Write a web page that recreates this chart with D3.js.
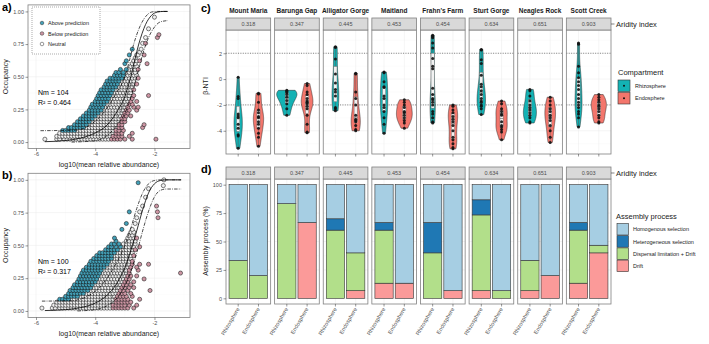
<!DOCTYPE html>
<html>
<head>
<meta charset="utf-8">
<script src="https://cdn.jsdelivr.net/npm/d3@7.9.0/dist/d3.min.js"></script>
<style>
  body { margin: 0; background: #fff; }
  svg { display: block; font-family: "Liberation Sans", Arial, sans-serif; }
</style>
</head>
<body>
<div id="chart"></div>
<script>
// ---------- data: neutral model panels (rows of [occupancy, [log10 abundance ...]]) ----------
const neutralA = [
  [0.022, [-5.7,-5.3,-5.2,-5.05,-4.95,-4.85,-4.75,-4.65,-4.55,-4.45,-4.35,-4.25,-4.15,-4.05,-3.95,-3.85,-3.75,-3.65,-3.55]],
  [0.044, [-5.3,-5.2,-5.1,-5.0,-4.9,-4.8,-4.7,-4.6,-4.5,-4.4,-4.3,-4.2,-4.1,-4.0,-3.9,-3.8,-3.7,-3.6,-3.5]],
  [0.067, [-5.2,-5.1,-5.0,-4.9,-4.8,-4.7,-4.6,-4.5,-4.4,-4.3,-4.2,-4.1,-4.0,-3.9,-3.8,-3.7,-3.6,-3.5,-3.4]],
  [0.089, [-4.6,-4.5,-4.4,-4.3,-4.2,-4.1,-4.0,-3.9,-3.8,-3.7,-3.6,-3.5,-3.4]],
  [0.111, [-4.3,-4.2,-4.1,-4.0,-3.9,-3.8,-3.7,-3.6,-3.5,-3.4,-3.3]],
  [0.133, [-4.2,-4.1,-4.0,-3.9,-3.8,-3.7,-3.6,-3.5,-3.4,-3.3]],
  [0.156, [-4.1,-4.0,-3.9,-3.8,-3.7,-3.6,-3.5,-3.4,-3.3,-3.2]],
  [0.178, [-4.0,-3.9,-3.8,-3.7,-3.6,-3.5,-3.4,-3.3,-3.2]],
  [0.2, [-3.9,-3.8,-3.7,-3.6,-3.5,-3.4,-3.3,-3.2,-3.15]],
  [0.222, [-3.8,-3.7,-3.6,-3.5,-3.4,-3.3,-3.2,-3.1]],
  [0.244, [-3.7,-3.6,-3.5,-3.4,-3.3,-3.2,-3.1,-3.05]],
  [0.267, [-3.65,-3.55,-3.45,-3.35,-3.25,-3.15,-3.05,-3.0]],
  [0.289, [-3.6,-3.5,-3.4,-3.3,-3.2,-3.1,-3.0,-2.95]],
  [0.311, [-3.5,-3.4,-3.3,-3.2,-3.1,-3.0,-2.9]],
  [0.333, [-3.45,-3.35,-3.25,-3.15,-3.05,-2.95,-2.85]],
  [0.356, [-3.4,-3.3,-3.2,-3.1,-3.0,-2.9,-2.85]],
  [0.378, [-3.35,-3.25,-3.15,-3.05,-2.95,-2.85,-2.8]],
  [0.4, [-3.3,-3.2,-3.1,-3.0,-2.9,-2.8]],
  [0.422, [-3.2,-3.1,-3.0,-2.9,-2.8,-2.75]],
  [0.444, [-3.15,-3.05,-2.95,-2.85,-2.75,-2.7]],
  [0.467, [-3.1,-3.0,-2.9,-2.8,-2.7]],
  [0.489, [-3.05,-2.95,-2.85,-2.75,-2.65]],
  [0.511, [-3.0,-2.9,-2.8,-2.7,-2.6]],
  [0.533, [-2.95,-2.85,-2.75,-2.65]],
  [0.556, [-2.85,-2.75,-2.65]],
  [0.578, [-2.8,-2.7,-2.6]],
  [0.6, [-2.75,-2.65]],
  [0.622, [-2.7,-2.6]],
  [0.644, [-2.65]],
  [0.667, [-2.6,-2.55]],
  [0.689, [-2.5]],
  [0.711, [-2.45]],
  [0.756, [-2.4]],
  [0.8, [-2.3]],
  [0.867, [-2.2]],
  [0.956, [-2.0]]
];
const aboveA = [
  [0.089, [-5.1,-5.0,-4.9,-4.8,-4.7]],
  [0.111, [-4.9,-4.8,-4.7,-4.6,-4.5,-4.4]],
  [0.133, [-4.7,-4.6,-4.5,-4.4,-4.3]],
  [0.156, [-4.6,-4.5,-4.4,-4.3,-4.2]],
  [0.178, [-4.5,-4.4,-4.3,-4.2,-4.1]],
  [0.2, [-4.4,-4.3,-4.2,-4.1,-4.0]],
  [0.222, [-4.3,-4.2,-4.1,-4.0,-3.9]],
  [0.244, [-4.2,-4.1,-4.0,-3.9,-3.8]],
  [0.267, [-4.15,-4.05,-3.95,-3.85,-3.75]],
  [0.289, [-4.1,-4.0,-3.9,-3.8,-3.7]],
  [0.311, [-4.0,-3.9,-3.8,-3.7,-3.6]],
  [0.333, [-3.95,-3.85,-3.75,-3.65,-3.55]],
  [0.356, [-3.9,-3.8,-3.7,-3.6,-3.5]],
  [0.378, [-3.85,-3.75,-3.65,-3.55,-3.45]],
  [0.4, [-3.8,-3.7,-3.6,-3.5,-3.4]],
  [0.422, [-3.7,-3.6,-3.5,-3.4,-3.3]],
  [0.444, [-3.65,-3.55,-3.45,-3.35,-3.25]],
  [0.467, [-3.6,-3.5,-3.4,-3.3,-3.2]],
  [0.489, [-3.5,-3.4,-3.3,-3.2,-3.1]],
  [0.511, [-3.35,-3.25,-3.15,-3.05]],
  [0.533, [-3.3,-3.2,-3.05]],
  [0.556, [-3.15,-2.95]],
  [0.6, [-3.0]],
  [0.622, [-2.95]],
  [0.667, [-2.85]],
  [0.711, [-2.75]]
];
const belowA = [
  [0.022, [-3.45,-3.35,-3.25,-3.15,-3.0,-2.75,-1.95]],
  [0.044, [-3.4,-3.3,-3.2,-3.1,-2.85]],
  [0.067, [-3.3,-3.2,-3.1,-2.75]],
  [0.089, [-3.3,-3.2,-3.05]],
  [0.111, [-3.2,-3.1,-2.4]],
  [0.133, [-3.2,-3.1,-2.35]],
  [0.156, [-3.1,-3.0]],
  [0.178, [-3.1,-3.0]],
  [0.2, [-3.05,-2.95,-2.8]],
  [0.222, [-3.0,-2.9]],
  [0.244, [-2.95,-2.85,-2.6]],
  [0.267, [-2.9,-2.7,-2.55]],
  [0.289, [-2.85,-2.75]],
  [0.311, [-2.8,-2.6]],
  [0.333, [-2.75]],
  [0.356, [-2.7,-2.2]],
  [0.4, [-2.7]],
  [0.444, [-2.6]],
  [0.489, [-2.55]],
  [0.556, [-2.55]],
  [0.6, [-2.25]],
  [0.622, [-2.5]],
  [0.667, [-2.35]],
  [0.756, [-2.3]],
  [0.8, [-1.9]],
  [0.822, [-1.85]]
];
const neutralB = [
  [0.022, [-5.8,-5.45,-5.35,-5.2,-5.1,-5.0,-4.9,-4.8,-4.7,-4.6,-4.5,-4.4,-4.3,-4.2,-4.1,-4.0,-3.9,-3.8,-3.7,-3.6,-3.5]],
  [0.044, [-5.4,-5.3,-5.2,-5.1,-5.0,-4.9,-4.8,-4.7,-4.6,-4.5,-4.4,-4.3,-4.2,-4.1,-4.0,-3.9,-3.8,-3.7,-3.6,-3.5]],
  [0.067, [-5.3,-5.2,-5.1,-5.0,-4.9,-4.8,-4.7,-4.6,-4.5,-4.4,-4.3,-4.2,-4.1,-4.0,-3.9,-3.8,-3.7,-3.6,-3.5,-3.4]],
  [0.089, [-4.8,-4.7,-4.6,-4.5,-4.4,-4.3,-4.2,-4.1,-4.0,-3.9,-3.8,-3.7,-3.6,-3.5,-3.4]],
  [0.111, [-4.5,-4.4,-4.3,-4.2,-4.1,-4.0,-3.9,-3.8,-3.7,-3.6,-3.5,-3.4,-3.35]],
  [0.133, [-4.3,-4.2,-4.1,-4.0,-3.9,-3.8,-3.7,-3.6,-3.5,-3.4,-3.3]],
  [0.156, [-4.15,-4.05,-3.95,-3.85,-3.75,-3.65,-3.55,-3.45,-3.35,-3.25]],
  [0.178, [-4.05,-3.95,-3.85,-3.75,-3.65,-3.55,-3.45,-3.35,-3.25,-3.2]],
  [0.2, [-4.0,-3.9,-3.8,-3.7,-3.6,-3.5,-3.4,-3.3,-3.2,-3.15]],
  [0.222, [-3.9,-3.8,-3.7,-3.6,-3.5,-3.4,-3.3,-3.2,-3.1]],
  [0.244, [-3.85,-3.75,-3.65,-3.55,-3.45,-3.35,-3.25,-3.15,-3.05]],
  [0.267, [-3.8,-3.7,-3.6,-3.5,-3.4,-3.3,-3.2,-3.1,-3.0]],
  [0.289, [-3.75,-3.65,-3.55,-3.45,-3.35,-3.25,-3.15,-3.05,-2.95]],
  [0.311, [-3.7,-3.6,-3.5,-3.4,-3.3,-3.2,-3.1,-3.0,-2.95]],
  [0.333, [-3.6,-3.5,-3.4,-3.3,-3.2,-3.1,-3.0,-2.9]],
  [0.356, [-3.5,-3.4,-3.3,-3.2,-3.1,-3.0,-2.9,-2.85]],
  [0.378, [-3.45,-3.35,-3.25,-3.15,-3.05,-2.95,-2.85]],
  [0.4, [-3.35,-3.25,-3.15,-3.05,-2.95,-2.85,-2.8]],
  [0.422, [-3.35,-3.25,-3.15,-3.05,-2.95,-2.85,-2.8]],
  [0.444, [-3.25,-3.15,-3.05,-2.95,-2.85,-2.75]],
  [0.467, [-3.15,-3.05,-2.95,-2.85,-2.75]],
  [0.489, [-3.05,-2.95,-2.85,-2.75,-2.7]],
  [0.511, [-3.05,-2.95,-2.85,-2.75,-2.65]],
  [0.533, [-2.95,-2.85,-2.75,-2.65]],
  [0.556, [-2.9,-2.8,-2.7]],
  [0.578, [-2.85,-2.75]],
  [0.6, [-2.8,-2.7]],
  [0.622, [-2.75]],
  [0.667, [-2.65]],
  [0.711, [-2.6]],
  [0.756, [-2.5]],
  [0.8, [-2.4]],
  [0.867, [-2.3]],
  [0.933, [-2.2]],
  [0.956, [-1.7]],
  [1.0, [-1.68]]
];
const aboveB = [
  [0.089, [-5.2,-5.1,-5.0,-4.9]],
  [0.111, [-5.0,-4.9,-4.8,-4.7,-4.6]],
  [0.133, [-4.9,-4.8,-4.7,-4.6,-4.5,-4.4]],
  [0.156, [-4.85,-4.75,-4.65,-4.55,-4.45,-4.35,-4.25]],
  [0.178, [-4.75,-4.65,-4.55,-4.45,-4.35,-4.25,-4.15]],
  [0.2, [-4.7,-4.6,-4.5,-4.4,-4.3,-4.2,-4.1]],
  [0.222, [-4.6,-4.5,-4.4,-4.3,-4.2,-4.1,-4.0]],
  [0.244, [-4.55,-4.45,-4.35,-4.25,-4.15,-4.05,-3.95]],
  [0.267, [-4.5,-4.4,-4.3,-4.2,-4.1,-4.0,-3.9]],
  [0.289, [-4.45,-4.35,-4.25,-4.15,-4.05,-3.95,-3.85]],
  [0.311, [-4.4,-4.3,-4.2,-4.1,-4.0,-3.9,-3.8]],
  [0.333, [-4.3,-4.2,-4.1,-4.0,-3.9,-3.8,-3.7]],
  [0.356, [-4.2,-4.1,-4.0,-3.9,-3.8,-3.7,-3.6]],
  [0.378, [-4.15,-4.05,-3.95,-3.85,-3.75,-3.65,-3.55]],
  [0.4, [-4.05,-3.95,-3.85,-3.75,-3.65,-3.55,-3.45]],
  [0.422, [-3.95,-3.85,-3.75,-3.65,-3.55,-3.45]],
  [0.444, [-3.85,-3.75,-3.65,-3.55,-3.45,-3.35]],
  [0.467, [-3.65,-3.55,-3.45,-3.35,-3.25]],
  [0.489, [-3.55,-3.45,-3.3,-3.15]],
  [0.511, [-3.45,-3.35,-3.2]],
  [0.533, [-3.3]],
  [0.556, [-3.35]],
  [0.622, [-3.1]],
  [0.667, [-2.95]],
  [0.756, [-2.85]],
  [0.978, [-2.55]]
];
const belowB = [
  [0.022, [-3.4,-3.3,-3.2,-3.1,-3.0,-2.9,-2.7]],
  [0.044, [-3.4,-3.3,-3.2,-3.1,-3.0,-2.85,-2.6]],
  [0.067, [-3.3,-3.2,-3.1,-3.0,-2.9,-2.8]],
  [0.089, [-3.3,-3.2,-3.1,-3.0,-2.9,-2.5]],
  [0.111, [-3.25,-3.15,-3.05,-2.95,-2.75]],
  [0.133, [-3.2,-3.1,-3.0,-2.8]],
  [0.156, [-3.15,-3.05,-2.9,-2.15]],
  [0.178, [-3.1,-3.0,-2.85,-2.7]],
  [0.2, [-3.05,-2.95,-2.8]],
  [0.222, [-3.0,-2.9,-2.7]],
  [0.244, [-2.95,-2.85,-2.35]],
  [0.267, [-2.9,-2.8,-2.6]],
  [0.289, [-2.85,-1.12]],
  [0.311, [-2.85,-2.55]],
  [0.333, [-2.8,-2.6]],
  [0.356, [-2.75,-2.5,-2.2]],
  [0.378, [-2.75]],
  [0.422, [-2.7]],
  [0.467, [-2.65]],
  [0.489, [-2.5]],
  [0.556, [-2.6]],
  [0.711, [-1.88]],
  [0.756, [-1.9]],
  [0.8, [-1.93]]
];

// fitted neutral model curves: [log10 abundance, occupancy]
const predA  = [[-5.7,0.003],[-5.0,0.012],[-4.5,0.03],[-4.0,0.07],[-3.6,0.13],[-3.3,0.22],[-3.0,0.35],[-2.8,0.5],[-2.53,0.75],[-2.3,0.9],[-2.1,0.97],[-1.9,0.995],[-1.7,1.0],[-1.55,1.0]];
const upperA = [[-5.85,0.087],[-4.6,0.092],[-4.3,0.115],[-4.0,0.16],[-3.6,0.26],[-3.3,0.37],[-3.0,0.5],[-2.85,0.62],[-2.7,0.75],[-2.5,0.88],[-2.3,0.96],[-2.1,0.995],[-1.9,1.0],[-1.55,1.0]];
const lowerA = [[-4.8,0.0],[-4.0,0.01],[-3.6,0.05],[-3.3,0.12],[-3.0,0.22],[-2.8,0.34],[-2.6,0.5],[-2.36,0.7],[-2.2,0.8],[-2.0,0.88],[-1.8,0.92],[-1.55,0.93]];
const predB  = [[-5.7,0.003],[-5.0,0.01],[-4.5,0.025],[-4.0,0.06],[-3.6,0.12],[-3.3,0.2],[-3.0,0.33],[-2.8,0.46],[-2.6,0.61],[-2.4,0.77],[-2.2,0.9],[-2.0,0.97],[-1.8,0.995],[-1.6,1.0],[-1.1,1.0]];
const upperB = [[-5.8,0.075],[-4.8,0.078],[-4.5,0.09],[-4.2,0.12],[-3.9,0.17],[-3.6,0.25],[-3.3,0.36],[-3.0,0.5],[-2.8,0.63],[-2.6,0.78],[-2.4,0.9],[-2.2,0.97],[-2.0,0.995],[-1.8,1.0],[-1.1,1.0]];
const lowerB = [[-4.6,0.0],[-4.0,0.01],[-3.6,0.04],[-3.3,0.09],[-3.0,0.19],[-2.8,0.3],[-2.6,0.44],[-2.4,0.61],[-2.2,0.76],[-2.0,0.87],[-1.8,0.92],[-1.6,0.93],[-1.1,0.93]];

// ---------- data: sites, beta-NTI, assembly processes ----------
const sites = ['Mount Maria', 'Barunga Gap', 'Alligator Gorge', 'Maitland', "Frahn's Farm", 'Sturt Gorge', 'Neagles Rock', 'Scott Creek'];
const aridity = ['0.318', '0.347', '0.445', '0.453', '0.454', '0.634', '0.651', '0.903'];
const compartments = ['Rhizosphere', 'Endosphere'];
const compColors = ['#14B2B4', '#F3766C'];

const betaRhizo = [
  [0.15,-1.35,-1.5,-2.7,-2.85,-3.0,-3.5,-3.8,-4.3,-4.4,-5.35],
  [-0.87,-0.95,-1.05,-1.2,-1.4,-1.65,-1.9,-2.3,-2.8],
  [2.5,2.45,1.55,0.4,-0.3,-0.8,-1.0,-1.3,-2.2,-2.3,-2.45],
  [0.55,0.5,-0.2,-0.6,-0.65,-1.3,-1.5,-2.0,-2.2,-2.5,-3.0,-3.5,-4.2],
  [3.4,3.3,3.2,2.8,2.4,1.6,1.0,0.8,-0.7,-1.2,-1.5,-1.6,-1.8,-2.0,-2.5,-2.7,-3.0,-3.3,-3.4],
  [2.3,2.25,1.5,1.2,0.3,-0.4,-0.6,-0.9,-1.2,-1.5,-1.7,-1.8,-2.0,-2.1,-2.3,-2.75],
  [-0.8,-0.9,-1.3,-1.7,-2.0,-2.2,-2.4,-2.6,-2.8,-3.0,-3.3,-3.4],
  [2.8,2.7,1.0,0.5,0.1,-0.2,-0.5,-0.8,-1.2,-1.5,-1.8,-2.0,-2.2,-2.5,-2.7,-3.0,-3.7]
];
const betaEndo = [
  [-1.1,-1.15,-1.8,-2.4,-2.6,-2.9,-3.0,-3.3,-3.5,-3.8,-4.2,-4.5,-5.2],
  [-0.35,-0.5,-1.0,-1.2,-1.5,-1.7,-1.8,-1.9,-2.1,-2.3,-2.8,-3.5,-4.1,-4.15],
  [0.45,0.4,-1.0,-1.5,-2.0,-2.8,-3.1,-3.2,-3.3,-3.6,-3.9,-4.0],
  [-1.6,-1.8,-2.0,-2.2,-2.5,-2.6,-2.8,-3.0,-3.2,-3.4,-3.8],
  [-2.0,-2.1,-2.4,-2.6,-2.9,-3.1,-3.3,-3.6,-4.0,-4.5,-4.7,-5.0,-5.3,-5.4],
  [-1.7,-1.9,-2.3,-2.5,-2.7,-2.8,-3.3,-3.6,-3.7,-3.9,-4.1,-4.7],
  [-1.4,-1.7,-2.0,-2.3,-2.5,-2.8,-3.0,-3.2,-3.6,-4.0,-4.5,-4.9],
  [-1.2,-1.4,-1.6,-1.8,-2.0,-2.1,-2.3,-2.5,-2.8,-3.0,-3.3,-3.4]
];

const processes = ['Homogenous selection', 'Heterogeneous selection', 'Dispersal limitation + Drift', 'Drift'];
const processColors = ['#A6CEE3', '#1F78B4', '#B2DF8A', '#FB9A99'];
// percent of pairs per site
const homoRhizo = [66.7, 16.7, 30, 33.3, 33.3, 13.3, 66.6, 33.3];
const homoEndo  = [80, 33.3, 60, 86.7, 93.3, 93.3, 80, 53.3];
const heteRhizo = [0, 0, 10, 6.7, 26.7, 13.3, 0, 6.7];
const heteEndo  = [0, 0, 0, 0, 0, 0, 0, 0];
const dispRhizo = [33.3, 83.3, 60, 46.7, 40, 66.7, 26.7, 46.7];
const dispEndo  = [20, 0, 33.3, 0, 0, 6.7, 0, 6.7];
const driftRhizo = [0, 0, 0, 13.3, 0, 6.7, 6.7, 13.3];
const driftEndo  = [0, 66.7, 6.7, 13.3, 6.7, 0, 20, 40];

// ---------- setup ----------
const width = 709, height = 344;
const svg = d3.select('#chart').append('svg')
  .attr('width', width).attr('height', height);

const textDark = '#1A1A1A';
const axisGrey = '#4D4D4D';
const borderCol = '#808080';
const gridMajor = '#EBEBEB';
const gridMinor = '#F5F5F5';

function drawGrid(g, xs, ys, x, y, x0, x1, y0, y1, col, w) {
  g.append('g').selectAll('line').data(xs).join('line')
    .attr('x1', d => x(d)).attr('x2', d => x(d)).attr('y1', y0).attr('y2', y1)
    .attr('stroke', col).attr('stroke-width', w);
  g.append('g').selectAll('line').data(ys).join('line')
    .attr('y1', d => y(d)).attr('y2', d => y(d)).attr('x1', x0).attr('x2', x1)
    .attr('stroke', col).attr('stroke-width', w);
}

function styleAxis(ax) {
  ax.select('.domain').remove();
  ax.selectAll('line').attr('stroke', '#333').attr('stroke-width', 0.5);
  ax.selectAll('text').attr('fill', axisGrey).attr('font-size', 5.5)
    .attr('font-family', '"Liberation Sans", Arial, sans-serif');
}

const pts = rows => rows.flatMap(([y, xs]) => xs.map(x => ({ x, y })));

// ---------- panels a) and b) ----------
function neutralPanel(o) {
  const left = 28, right = 190;
  const x = d3.scaleLinear().domain([-6.27, -0.8]).range([left, right]);
  const y = d3.scaleLinear().domain([-0.05, 1.05]).range([o.bottom, o.top]);
  const g = svg.append('g');

  drawGrid(g, [-5, -3, -1], [0.125, 0.375, 0.625, 0.875], x, y, left, right, o.top, o.bottom, gridMinor, 0.35);
  drawGrid(g, [-6, -4, -2], [0, 0.25, 0.5, 0.75, 1], x, y, left, right, o.top, o.bottom, gridMajor, 0.5);

  const groups = [
    { rows: o.neutral, fill: '#EFEFEF' },
    { rows: o.below, fill: '#CD96A4' },
    { rows: o.above, fill: '#43A0B8' }
  ];
  groups.forEach(grp => {
    g.append('g').selectAll('circle').data(pts(grp.rows)).join('circle')
      .attr('cx', d => x(d.x)).attr('cy', d => y(d.y)).attr('r', 2.05)
      .attr('fill', grp.fill).attr('stroke', '#151515').attr('stroke-width', 0.55);
  });

  const line = d3.line().x(d => x(d[0])).y(d => y(d[1])).curve(d3.curveMonotoneX);
  g.append('path').attr('d', line(o.pred)).attr('fill', 'none')
    .attr('stroke', '#000').attr('stroke-width', 0.8);
  [o.upper, o.lower].forEach(c => {
    g.append('path').attr('d', line(c)).attr('fill', 'none')
      .attr('stroke', '#000').attr('stroke-width', 0.7)
      .attr('stroke-dasharray', '3.5,1.2,0.8,1.2');
  });

  g.append('rect').attr('x', left).attr('y', o.top)
    .attr('width', right - left).attr('height', o.bottom - o.top)
    .attr('fill', 'none').attr('stroke', borderCol).attr('stroke-width', 0.8);

  styleAxis(g.append('g').attr('transform', `translate(${left},0)`)
    .call(d3.axisLeft(y).tickValues([0, 0.25, 0.5, 0.75, 1]).tickFormat(d3.format('.2f')).tickSize(2.5).tickPadding(1.5)));
  styleAxis(g.append('g').attr('transform', `translate(0,${o.bottom})`)
    .call(d3.axisBottom(x).tickValues([-6, -4, -2]).tickFormat(d => String(d)).tickSize(2.5).tickPadding(1.5)));

  g.append('text').attr('transform', `translate(8,${(o.top + o.bottom) / 2}) rotate(-90)`)
    .attr('text-anchor', 'middle').attr('font-size', 7).attr('fill', textDark).text('Occupancy');
  g.append('text').attr('x', (left + right) / 2).attr('y', o.bottom + 18)
    .attr('text-anchor', 'middle').attr('font-size', 7).attr('fill', textDark)
    .text('log10(mean relative abundance)');

  g.append('text').attr('x', 38).attr('y', y(o.nmY)).attr('font-size', 7).attr('fill', '#000').text(o.nm);
  g.append('text').attr('x', 38).attr('y', y(o.nmY - 0.08)).attr('font-size', 7).attr('fill', '#000').text(o.r2);

  g.append('text').attr('x', 2).attr('y', o.top + 6).attr('font-size', 11)
    .attr('font-weight', 'bold').attr('fill', '#000').text(o.tag);

  if (o.legend) {
    const lg = g.append('g');
    lg.append('rect').attr('x', 32).attr('y', 7).attr('width', 68).attr('height', 47)
      .attr('fill', '#fff').attr('stroke', '#555').attr('stroke-width', 0.5)
      .attr('stroke-dasharray', '1,1');
    const items = [['Above prediction', '#43A0B8'], ['Below prediction', '#CD96A4'], ['Neutral', '#FFFFFF']];
    items.forEach(([lab, col], i) => {
      const cy = 23 + i * 10.5;
      lg.append('circle').attr('cx', 42).attr('cy', cy).attr('r', 1.8)
        .attr('fill', col).attr('stroke', '#1A1A1A').attr('stroke-width', 0.45);
      lg.append('text').attr('x', 48).attr('y', cy + 2).attr('font-size', 5.5)
        .attr('fill', textDark).text(lab);
    });
  }
}

neutralPanel({ top: 4.9, bottom: 148.6, neutral: neutralA, above: aboveA, below: belowA,
  pred: predA, upper: upperA, lower: lowerA, nm: 'Nm = 104', r2: 'R² = 0.464', nmY: 0.36, tag: 'a)', legend: true });
neutralPanel({ top: 173.3, bottom: 317.5, neutral: neutralB, above: aboveB, below: belowB,
  pred: predB, upper: upperB, lower: lowerB, nm: 'Nm = 100', r2: 'R² = 0.317', nmY: 0.36, tag: 'b)', legend: false });

// ---------- facets shared by c) and d) ----------
const xSite = d3.scaleBand().domain(sites).range([226, 611]).paddingInner(0.0816);
const bw = xSite.bandwidth();
const xComp = site => d3.scalePoint().domain(compartments)
  .range([xSite(site), xSite(site) + bw]).padding(0.6);
const step = bw / 2.2;

function strips(y0, withTitles, labelY) {
  const g = svg.append('g');
  sites.forEach((s, i) => {
    g.append('rect').attr('x', xSite(s)).attr('y', y0).attr('width', bw).attr('height', 12)
      .attr('fill', '#D9D9D9').attr('stroke', borderCol).attr('stroke-width', 0.8);
    g.append('text').attr('x', xSite(s) + bw / 2).attr('y', y0 + 8).attr('text-anchor', 'middle')
      .attr('font-size', 5.5).attr('fill', axisGrey).text(aridity[i]);
    if (withTitles) {
      g.append('text').attr('x', xSite(s) + bw / 2).attr('y', y0 - 5.5).attr('text-anchor', 'middle')
        .attr('font-size', 6.5).attr('font-weight', 'bold').attr('fill', textDark).text(s);
    }
  });
  g.append('line').attr('x1', 611).attr('x2', 614.5).attr('y1', labelY).attr('y2', labelY)
    .attr('stroke', '#333').attr('stroke-width', 0.6);
  g.append('text').attr('x', 616).attr('y', labelY + 2.6).attr('font-size', 7.5)
    .attr('fill', textDark).text('Aridity index');
}

// ---------- panel c) beta-NTI violins ----------
const cTop = 30, cBottom = 154;
const yBeta = d3.scaleLinear().domain([-5.8, 3.8]).range([cBottom, cTop]);

function bwNrd0(v) {
  const s = d3.deviation(v);
  const sorted = v.slice().sort(d3.ascending);
  const iqr = d3.quantile(sorted, 0.75) - d3.quantile(sorted, 0.25);
  let lo = Math.min(s, iqr / 1.34);
  if (!(lo > 0)) lo = s || 1;
  return 0.9 * lo * Math.pow(v.length, -0.2);
}
function kde(v) {
  const h = bwNrd0(v), n = v.length;
  const lo = d3.min(v), hi = d3.max(v);
  return d3.range(0, 121).map(i => {
    const t = lo + (hi - lo) * i / 120;
    const d = d3.sum(v, xi => Math.exp(-0.5 * ((t - xi) / h) ** 2)) / (n * h * Math.sqrt(2 * Math.PI));
    return { t, d };
  });
}

const violins = [];
sites.forEach((s, i) => {
  [betaRhizo[i], betaEndo[i]].forEach((vals, j) => {
    violins.push({ site: s, comp: compartments[j], vals, dens: kde(vals) });
  });
});
// scale = "area": every violin shares one density maximum
const dMax = d3.max(violins, v => d3.max(v.dens, d => d.d));
const violinWidth = 1.0;

const gc = svg.append('g');
sites.forEach(s => {
  const x0 = xSite(s), xc = xComp(s);
  drawGrid(gc, [], [-5, -3, -1, 1, 3], null, yBeta, x0, x0 + bw, cTop, cBottom, gridMinor, 0.35);
  drawGrid(gc, compartments, [-4, -2, 0, 2], c => xc(c), yBeta, x0, x0 + bw, cTop, cBottom, gridMajor, 0.5);
  gc.append('g').selectAll('line').data([2, -2]).join('line')
    .attr('x1', x0).attr('x2', x0 + bw).attr('y1', d => yBeta(d)).attr('y2', d => yBeta(d))
    .attr('stroke', '#333').attr('stroke-width', 0.6).attr('stroke-dasharray', '1,1.4');
});

violins.forEach(v => {
  const cx = xComp(v.site)(v.comp);
  const half = d => (d / dMax) * violinWidth / 2 * step;
  const area = d3.area().y(d => yBeta(d.t)).x0(d => cx - half(d.d)).x1(d => cx + half(d.d));
  gc.append('path').attr('d', area(v.dens))
    .attr('fill', compColors[compartments.indexOf(v.comp)])
    .attr('stroke', '#222').attr('stroke-width', 0.5);

  const sorted = v.vals.slice().sort(d3.ascending);
  const q1 = d3.quantile(sorted, 0.25), q3 = d3.quantile(sorted, 0.75), med = d3.median(sorted);
  const iqr = q3 - q1;
  const wLo = d3.min(sorted.filter(d => d >= q1 - 1.5 * iqr));
  const wHi = d3.max(sorted.filter(d => d <= q3 + 1.5 * iqr));
  gc.append('line').attr('x1', cx).attr('x2', cx).attr('y1', yBeta(wLo)).attr('y2', yBeta(wHi))
    .attr('stroke', '#555').attr('stroke-width', 0.5);
  gc.append('rect').attr('x', cx - 1.6).attr('width', 3.2)
    .attr('y', yBeta(q3)).attr('height', yBeta(q1) - yBeta(q3))
    .attr('fill', '#F2F2F2').attr('stroke', '#666').attr('stroke-width', 0.4);
  gc.append('line').attr('x1', cx - 1.6).attr('x2', cx + 1.6).attr('y1', yBeta(med)).attr('y2', yBeta(med))
    .attr('stroke', '#444').attr('stroke-width', 0.5);
  gc.append('g').selectAll('circle').data(v.vals).join('circle')
    .attr('cx', cx).attr('cy', d => yBeta(d)).attr('r', 1.5)
    .attr('fill', '#111').attr('fill-opacity', 0.9);
});

sites.forEach(s => {
  const x0 = xSite(s), xc = xComp(s);
  gc.append('rect').attr('x', x0).attr('y', cTop).attr('width', bw).attr('height', cBottom - cTop)
    .attr('fill', 'none').attr('stroke', borderCol).attr('stroke-width', 0.8);
  gc.append('g').selectAll('line').data(compartments).join('line')
    .attr('x1', d => xc(d)).attr('x2', d => xc(d)).attr('y1', cBottom).attr('y2', cBottom + 2.5)
    .attr('stroke', '#333').attr('stroke-width', 0.5);
});
styleAxis(gc.append('g').attr('transform', `translate(${xSite(sites[0])},0)`)
  .call(d3.axisLeft(yBeta).tickValues([-4, -2, 0, 2]).tickFormat(d => String(d)).tickSize(2.5).tickPadding(1.5)));
gc.append('text').attr('transform', `translate(208,86) rotate(-90)`).attr('text-anchor', 'middle')
  .attr('font-size', 7).attr('fill', textDark).text('β-NTI');
strips(18, true, 24);
gc.append('text').attr('x', 201).attr('y', 12).attr('font-size', 11).attr('font-weight', 'bold')
  .attr('fill', '#000').text('c)');

// legend c
const lc = svg.append('g');
lc.append('text').attr('x', 618).attr('y', 75).attr('font-size', 7.5).attr('fill', textDark).text('Compartment');
compartments.forEach((c, i) => {
  const y0 = 80 + i * 12.5;
  lc.append('rect').attr('x', 618).attr('y', y0).attr('width', 12).attr('height', 11.5)
    .attr('fill', compColors[i]).attr('stroke', '#333').attr('stroke-width', 0.6);
  lc.append('circle').attr('cx', 624).attr('cy', y0 + 5.75).attr('r', 1).attr('fill', '#111');
  lc.append('text').attr('x', 635).attr('y', y0 + 7.8).attr('font-size', 5.5).attr('fill', textDark).text(c);
});

// ---------- panel d) assembly processes ----------
const dTop = 179, dBottom = 304;
const yPct = d3.scaleLinear().domain([-5, 105]).range([dBottom, dTop]);

const barRows = [];
sites.forEach((s, i) => {
  barRows.push({ site: s, comp: 'Rhizosphere', Drift: driftRhizo[i], 'Dispersal limitation + Drift': dispRhizo[i],
    'Heterogeneous selection': heteRhizo[i], 'Homogenous selection': homoRhizo[i] });
  barRows.push({ site: s, comp: 'Endosphere', Drift: driftEndo[i], 'Dispersal limitation + Drift': dispEndo[i],
    'Heterogeneous selection': heteEndo[i], 'Homogenous selection': homoEndo[i] });
});
const stackKeys = processes.slice().reverse();
const stacked = d3.stack().keys(stackKeys)(barRows);

const gd = svg.append('g');
sites.forEach(s => {
  const x0 = xSite(s), xc = xComp(s);
  drawGrid(gd, [], [12.5, 37.5, 62.5, 87.5], null, yPct, x0, x0 + bw, dTop, dBottom, gridMinor, 0.35);
  drawGrid(gd, compartments, [0, 25, 50, 75, 100], c => xc(c), yPct, x0, x0 + bw, dTop, dBottom, gridMajor, 0.5);
});
stacked.forEach(layer => {
  const col = processColors[processes.indexOf(layer.key)];
  gd.append('g').selectAll('rect').data(layer.filter(d => d[1] - d[0] > 0)).join('rect')
    .attr('x', d => xComp(d.data.site)(d.data.comp) - 0.45 * step)
    .attr('width', 0.9 * step)
    .attr('y', d => yPct(d[1]))
    .attr('height', d => yPct(d[0]) - yPct(d[1]))
    .attr('fill', col).attr('stroke', '#333').attr('stroke-width', 0.6);
});
sites.forEach(s => {
  const x0 = xSite(s), xc = xComp(s);
  gd.append('rect').attr('x', x0).attr('y', dTop).attr('width', bw).attr('height', dBottom - dTop)
    .attr('fill', 'none').attr('stroke', borderCol).attr('stroke-width', 0.8);
  gd.append('g').selectAll('line').data(compartments).join('line')
    .attr('x1', d => xc(d)).attr('x2', d => xc(d)).attr('y1', dBottom).attr('y2', dBottom + 2.5)
    .attr('stroke', '#333').attr('stroke-width', 0.5);
  gd.append('g').selectAll('text').data(compartments).join('text')
    .attr('transform', d => `translate(${xc(d) + 1.5},${dBottom + 5}) rotate(-60)`)
    .attr('text-anchor', 'end').attr('font-size', 5.5).attr('fill', axisGrey).text(d => d);
});
styleAxis(gd.append('g').attr('transform', `translate(${xSite(sites[0])},0)`)
  .call(d3.axisLeft(yPct).tickValues([0, 25, 50, 75, 100]).tickFormat(d => String(d)).tickSize(2.5).tickPadding(1.5)));
gd.append('text').attr('transform', `translate(208,241) rotate(-90)`).attr('text-anchor', 'middle')
  .attr('font-size', 7).attr('fill', textDark).text('Assembly process (%)');
strips(167, false, 173);
gd.append('text').attr('x', 201).attr('y', 173).attr('font-size', 11).attr('font-weight', 'bold')
  .attr('fill', '#000').text('d)');

// legend d
const ld = svg.append('g');
ld.append('text').attr('x', 616).attr('y', 219).attr('font-size', 7.5).attr('fill', textDark).text('Assembly process');
processes.forEach((p, i) => {
  const y0 = 223.5 + i * 12.2;
  ld.append('rect').attr('x', 617).attr('y', y0).attr('width', 11.5).attr('height', 11.5)
    .attr('fill', processColors[i]).attr('stroke', '#333').attr('stroke-width', 0.6);
  ld.append('text').attr('x', 633).attr('y', y0 + 7.8).attr('font-size', 5.5).attr('fill', textDark).text(p);
});
</script>
</body>
</html>
